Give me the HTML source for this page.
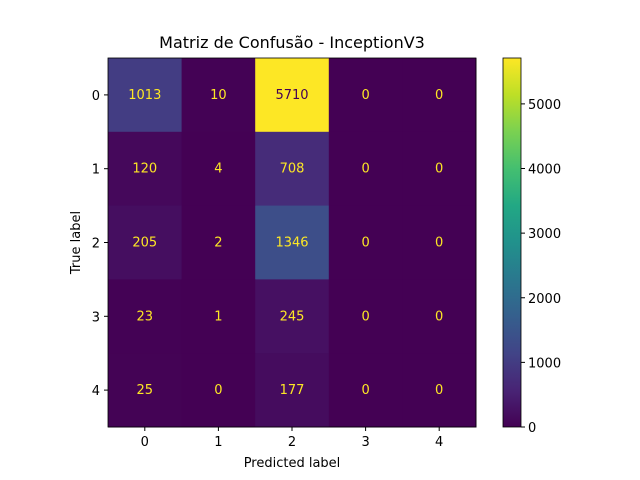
<!DOCTYPE html>
<html><head><meta charset="utf-8"><style>body{margin:0;background:#fff}svg{display:block;font-family:"DejaVu Sans","Liberation Sans",sans-serif}</style></head>
<body>
<svg id="chart" width="640" height="480">
<defs><linearGradient id="vir" x1="0" y1="1" x2="0" y2="0">
<stop offset="0" stop-color="#440154"/><stop offset="0.1" stop-color="#482475"/><stop offset="0.2" stop-color="#414487"/><stop offset="0.3" stop-color="#355f8d"/><stop offset="0.4" stop-color="#2a788e"/><stop offset="0.5" stop-color="#21918c"/><stop offset="0.6" stop-color="#22a884"/><stop offset="0.7" stop-color="#44bf70"/><stop offset="0.8" stop-color="#7ad151"/><stop offset="0.9" stop-color="#bddf26"/><stop offset="1" stop-color="#fde725"/></linearGradient></defs>
</svg>
<script>
const trueLabels=["0","1","2","3","4"];
const predLabels=["0","1","2","3","4"];
const row0=[1013,10,5710,0,0];
const row1=[120,4,708,0,0];
const row2=[205,2,1346,0,0];
const row3=[23,1,245,0,0];
const row4=[25,0,177,0,0];
const cbTicks=[0,1000,2000,3000,4000,5000];
const matrix=[row0,row1,row2,row3,row4];
const NS="http://www.w3.org/2000/svg",svg=document.getElementById('chart');
const L=108,T=58,W=368,H=369;
const vir=["#440154","#482475","#414487","#355f8d","#2a788e","#21918c","#22a884","#44bf70","#7ad151","#bddf26","#fde725"];
function hx(c){return [1,3,5].map(i=>parseInt(c.substr(i,2),16));}
function cmap(t){t=Math.max(0,Math.min(1,t));const p=t*10,i=Math.min(9,Math.floor(p)),f=p-i;const a=hx(vir[i]),b=hx(vir[i+1]);return `rgb(${a.map((v,k)=>Math.round(v+(b[k]-v)*f)).join(',')})`;}
let vmax=0,vmin=Infinity;matrix.forEach(r=>r.forEach(v=>{vmax=Math.max(vmax,v);vmin=Math.min(vmin,v);}));
const cw=W/predLabels.length,ch=H/trueLabels.length;
const xs=j=>L+cw*(j+0.5),ys=i=>T+ch*(i+0.5);
function el(t,a,txt){const e=document.createElementNS(NS,t);for(const k in a)e.setAttribute(k,a[k]);if(txt!==undefined)e.textContent=txt;svg.appendChild(e);return e;}
matrix.forEach((r,i)=>r.forEach((v,j)=>{
 const c=el('rect',{x:L+cw*j,y:T+ch*i,width:cw+0.5,height:ch+0.5,fill:cmap((v-vmin)/(vmax-vmin))});
 
 
 const t=el('text',{x:xs(j),y:ys(i)+4,'text-anchor':'middle','font-size':13,fill:v>(vmax+vmin)/2?'#440154':'#fde725'},String(v));
 
 
}));
const fr=el('rect',{x:L,y:T,width:W,height:H,fill:'none',stroke:'#000','stroke-width':0.8});


predLabels.forEach((l,j)=>{el('line',{x1:xs(j),x2:xs(j),y1:T+H,y2:T+H+4,stroke:'#000'});
 const t=el('text',{x:xs(j),y:T+H+19,'text-anchor':'middle','font-size':13},l);
 
 });
trueLabels.forEach((l,i)=>{el('line',{x1:L-4,x2:L,y1:ys(i),y2:ys(i),stroke:'#000'});
 const t=el('text',{x:L-8,y:ys(i)+5,'text-anchor':'end','font-size':13},l);
 
 });
let t=el('text',{x:L+W/2,y:467,'text-anchor':'middle','font-size':13},'Predicted label');


t=el('text',{x:80,y:T+H/2,'text-anchor':'middle','font-size':13,transform:`rotate(-90 80 ${T+H/2})`},'True label');


t=el('text',{x:L+W/2,y:48,'text-anchor':'middle','font-size':16},'Matriz de Confusão - InceptionV3');


const CX=503,CW=18;
const cb=el('rect',{x:CX,y:T,width:CW,height:H,fill:'url(#vir)',stroke:'#000','stroke-width':0.8});


cbTicks.forEach(v=>{const y=T+H-(v-vmin)/(vmax-vmin)*H;
 el('line',{x1:CX+CW,x2:CX+CW+4,y1:y,y2:y,stroke:'#000'});
 const tt=el('text',{x:CX+CW+7,y:y+5,'font-size':13},String(v));
 
 });
</script>
</body></html>
